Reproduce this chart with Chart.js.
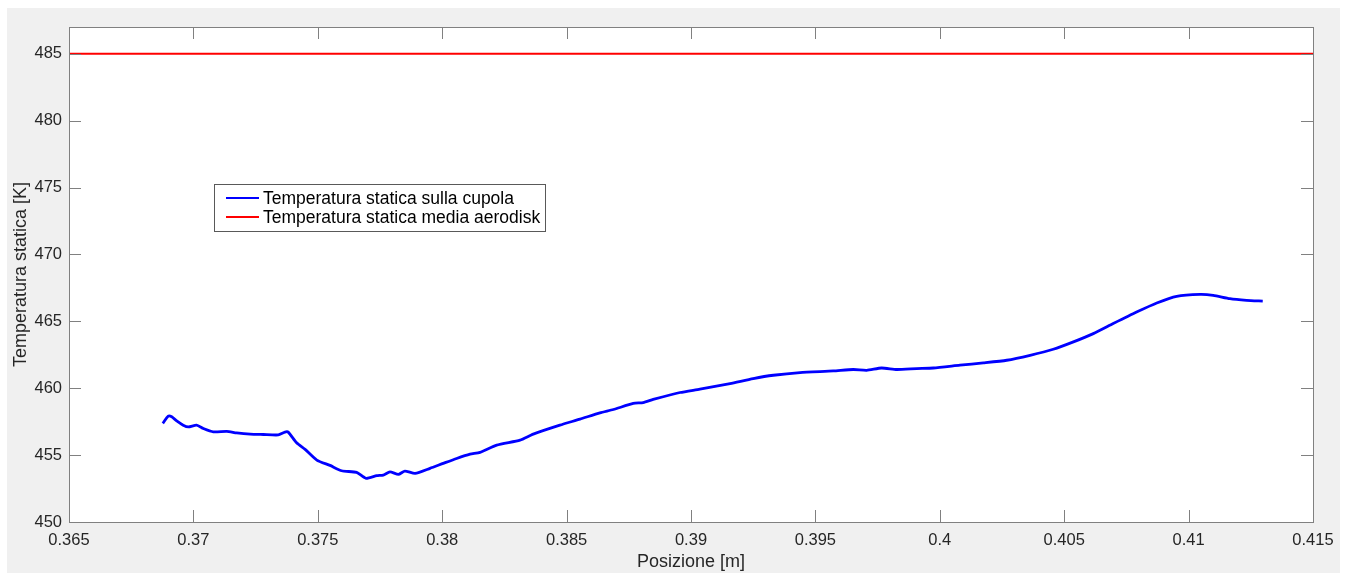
<!DOCTYPE html>
<html lang="it">
<head>
<meta charset="UTF-8">
<title>Temperatura statica sulla cupola</title>
<script src="https://cdn.jsdelivr.net/npm/chart.js"></script>
<style>
  body { margin: 0; background: #ffffff; }
  #wrap { width: 1347px; height: 574px; }
</style>
</head>
<body>
<div id="wrap"><canvas id="chart" width="1347" height="574"></canvas></div>
<script>
// Posizione [m] lungo la cupola
const posizione = [
  0.36877, 0.36899, 0.36913, 0.36933, 0.36959, 0.36980, 0.37013, 0.37040, 0.37080, 0.37134,
  0.37174, 0.37228, 0.37281, 0.37341, 0.37368, 0.37381, 0.37415, 0.37449, 0.37496, 0.37549,
  0.37596, 0.37656, 0.37694, 0.37737, 0.37763, 0.37790, 0.37824, 0.37850, 0.37891, 0.37951,
  0.38004, 0.38058, 0.38112, 0.38152, 0.38219, 0.38313, 0.38366, 0.38473, 0.38554, 0.38634,
  0.38688, 0.38768, 0.38808, 0.38848, 0.38956, 0.39036, 0.39157, 0.39250, 0.39331, 0.39438,
  0.39572, 0.39652, 0.39706, 0.39766, 0.39827, 0.39907, 0.39974, 0.40081, 0.40175, 0.40269,
  0.40363, 0.40456, 0.40537, 0.40617, 0.40697, 0.40791, 0.40872, 0.40952, 0.41046, 0.41099,
  0.41166, 0.41233, 0.41298
];
// Temperatura statica sulla cupola [K]
const tempCupola = [
  457.37, 457.91, 457.86, 457.56, 457.24, 457.11, 457.24, 456.99, 456.74, 456.77,
  456.66, 456.57, 456.54, 456.51, 456.72, 456.72, 455.92, 455.43, 454.63, 454.23,
  453.83, 453.71, 453.26, 453.46, 453.51, 453.75, 453.56, 453.81, 453.63, 454.01,
  454.38, 454.75, 455.07, 455.20, 455.75, 456.12, 456.57, 457.24, 457.69, 458.16,
  458.41, 458.86, 458.93, 459.16, 459.68, 459.93, 460.35, 460.72, 460.97, 461.17,
  461.29, 461.40, 461.34, 461.51, 461.40, 461.47, 461.51, 461.72, 461.89, 462.09,
  462.46, 462.91, 463.46, 464.08, 464.83, 465.69, 466.37, 466.87, 467.01, 466.94,
  466.69, 466.57, 466.51
];
// Temperatura statica media aerodisk [K]
const tempMediaX = [0.365, 0.415];
const tempMedia = [485, 485];

const xTicks = [0.365, 0.37, 0.375, 0.38, 0.385, 0.39, 0.395, 0.4, 0.405, 0.41, 0.415];
const yTicks = [450, 455, 460, 465, 470, 475, 480, 485];
const xMin = 0.365, xMax = 0.415, yMin = 450, yMax = 487;

const FONT = "'Liberation Sans', Arial, Helvetica, sans-serif";
const TEXT = '#262626';
const AXIS = '#808080';

// sfondo grigio della figura e area bianca degli assi
const figureBg = {
  id: 'figureBg',
  beforeDraw(chart) {
    const ctx = chart.ctx, a = chart.chartArea;
    ctx.save();
    ctx.fillStyle = '#f0f0f0';
    ctx.fillRect(7, 8, 1333, 565);
    ctx.fillStyle = '#ffffff';
    ctx.fillRect(a.left, a.top, a.right - a.left, a.bottom - a.top);
    ctx.restore();
  }
};

// box degli assi con tacche interne (stile MATLAB) e legenda
const matlabBox = {
  id: 'matlabBox',
  afterDraw(chart) {
    const ctx = chart.ctx, a = chart.chartArea;
    const xs = chart.scales.x, ys = chart.scales.y;
    const tl = 12;
    ctx.save();
    ctx.strokeStyle = AXIS;
    ctx.lineWidth = 1;
    ctx.beginPath();
    xTicks.forEach(v => {
      const px = Math.round(xs.getPixelForValue(v)) + 0.5;
      ctx.moveTo(px, a.bottom); ctx.lineTo(px, a.bottom - tl);
      ctx.moveTo(px, a.top); ctx.lineTo(px, a.top + tl);
    });
    yTicks.forEach(v => {
      const py = Math.round(ys.getPixelForValue(v)) + 0.5;
      ctx.moveTo(a.left, py); ctx.lineTo(a.left + tl, py);
      ctx.moveTo(a.right, py); ctx.lineTo(a.right - tl, py);
    });
    ctx.stroke();
    ctx.strokeRect(Math.round(a.left) + 0.5, Math.round(a.top) + 0.5,
      Math.round(a.right - a.left), Math.round(a.bottom - a.top));

    // legenda
    const lx = 214, ly = 184, lw = 331, lh = 47;
    ctx.fillStyle = '#ffffff';
    ctx.fillRect(lx, ly, lw, lh);
    ctx.strokeStyle = '#595959';
    ctx.strokeRect(lx + 0.5, ly + 0.5, lw, lh);
    ctx.font = '17.5px ' + FONT;
    ctx.textBaseline = 'middle';
    chart.data.datasets.forEach((ds, i) => {
      const y = 198 + i * 19;
      ctx.strokeStyle = ds.borderColor;
      ctx.lineWidth = 2;
      ctx.beginPath();
      ctx.moveTo(226, y); ctx.lineTo(259, y);
      ctx.stroke();
      ctx.fillStyle = '#000000';
      ctx.fillText(ds.label, 263, y + 1);
    });
    ctx.restore();
  }
};

new Chart(document.getElementById('chart'), {
  type: 'line',
  data: {
    datasets: [
      {
        label: 'Temperatura statica sulla cupola',
        data: posizione.map((x, i) => ({ x: x, y: tempCupola[i] })),
        borderColor: '#0000ff',
        borderWidth: 2.8,
        pointRadius: 0,
        tension: 0.2
      },
      {
        label: 'Temperatura statica media aerodisk',
        data: tempMediaX.map((x, i) => ({ x: x, y: tempMedia[i] })),
        borderColor: '#ff0000',
        borderWidth: 2,
        pointRadius: 0
      }
    ]
  },
  options: {
    responsive: false,
    animation: false,
    layout: { padding: { top: 27, right: 34, bottom: 0, left: 0 } },
    plugins: {
      legend: { display: false },
      tooltip: { enabled: false }
    },
    scales: {
      x: {
        type: 'linear',
        min: xMin,
        max: xMax,
        afterFit(scale) { scale.height = 52; },
        afterBuildTicks(scale) { scale.ticks = xTicks.map(v => ({ value: v })); },
        grid: { display: false, drawTicks: false },
        border: { display: false },
        ticks: {
          padding: 9,
          maxRotation: 0,
          autoSkip: false,
          color: TEXT,
          font: { family: FONT, size: 16.5 },
          callback: v => String(parseFloat(v.toFixed(3)))
        },
        title: {
          display: true,
          text: 'Posizione [m]',
          color: TEXT,
          font: { family: FONT, size: 18 },
          padding: { top: 0, bottom: 1 }
        }
      },
      y: {
        min: yMin,
        max: yMax,
        afterFit(scale) { scale.width = 69; },
        afterBuildTicks(scale) { scale.ticks = yTicks.map(v => ({ value: v })); },
        grid: { display: false, drawTicks: false },
        border: { display: false },
        ticks: {
          padding: 7,
          autoSkip: false,
          color: TEXT,
          font: { family: FONT, size: 16.5 },
          callback: v => String(v)
        },
        title: {
          display: true,
          text: 'Temperatura statica [K]',
          color: TEXT,
          font: { family: FONT, size: 18 },
          padding: { top: 10, bottom: 0 }
        }
      }
    }
  },
  plugins: [figureBg, matlabBox]
});
</script>
</body>
</html>
